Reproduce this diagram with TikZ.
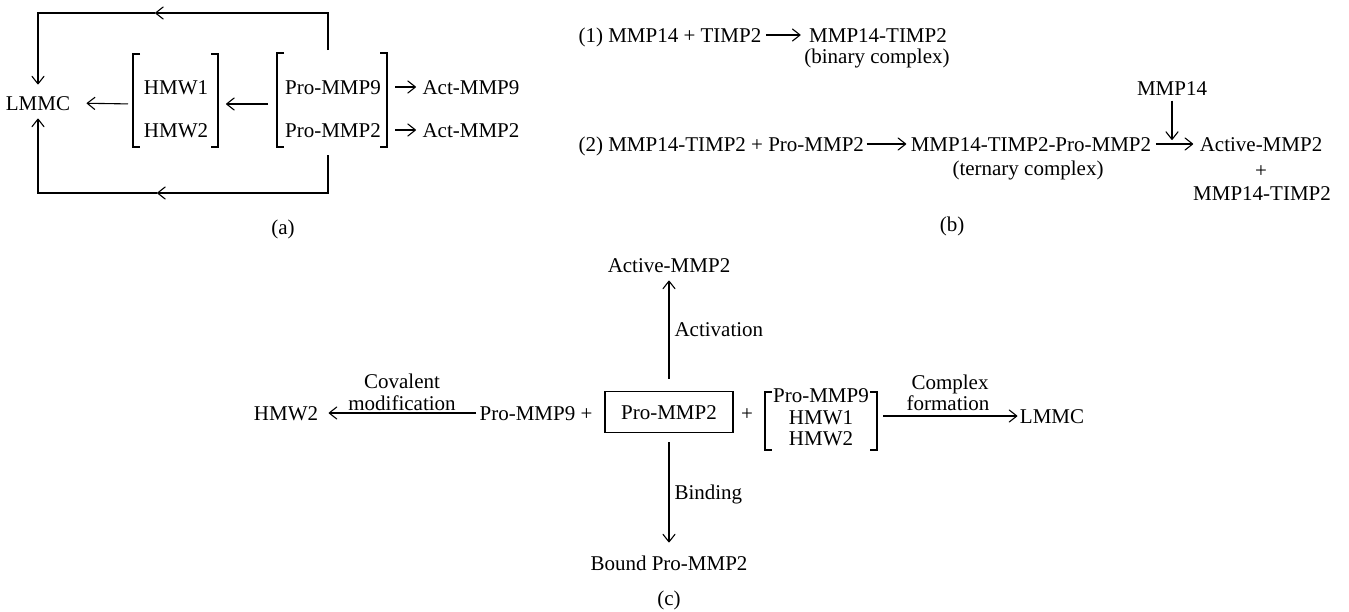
\documentclass[tikz,border=0pt]{standalone}
\usepackage{fontspec}
\setmainfont{Liberation Serif}
\usetikzlibrary{arrows.meta}
\begin{document}
\begin{tikzpicture}[x=0.5pt,y=-0.5pt,line width=0.55pt,
  every node/.style={inner sep=0pt,text height=7pt,text depth=0pt},
  font=\fontsize{10.5}{12}\selectfont,
  arr/.style={-{Straight Barb[length=3.8pt,width=6pt,round]}}]
\useasboundingbox (0,0) rectangle (1349,611);
% ---------------- panel (a)
\node (lmmc) at (38,103) {LMMC};
\node (hmw1) at (176,87) {HMW1};
\node (hmw2) at (176,130) {HMW2};
\node (pro9) at (333,87) {Pro-MMP9};
\node (pro2) at (333,130) {Pro-MMP2};
\node (act9) at (471,87) {Act-MMP9};
\node (act2) at (471,130) {Act-MMP2};
\draw (140,54) -- (133,54) -- (133,147) -- (140,147);
\draw (211,54) -- (218,54) -- (218,147) -- (211,147);
\draw (284,53) -- (277,53) -- (277,147) -- (284,147);
\draw (380,53) -- (387,53) -- (387,147) -- (380,147);
\coordinate (hL) at (133,104);
\coordinate (hR) at (218,104);
\coordinate (pL) at (277,104);
\coordinate (pR9) at (387,87);
\coordinate (pR2) at (387,130);
\coordinate (pT) at (328,50);
\coordinate (pB) at (328,155);
\coordinate (tr) at (328,13);
\coordinate (tm) at (155,13);
\coordinate (tl) at (38,13);
\coordinate (br) at (328,193);
\coordinate (bm) at (157,193);
\coordinate (bl) at (38,193);
\draw[arr,shorten <=4.5pt,shorten >=4pt] (pL) -- (hR);
\draw[arr,shorten <=2.5pt,shorten >=8pt] (hL) -- (lmmc.east);
\draw[arr,shorten <=4pt,shorten >=3pt] (pR9) -- (act9.west);
\draw[arr,shorten <=4pt,shorten >=3pt] (pR2) -- (act2.west);
\draw[arr] (pT) -- (tr) -- (tm);
\draw[arr,shorten >=5.5pt] (tm) -- (tl) -- (lmmc.north);
\draw[arr] (pB) -- (br) -- (bm);
\draw[arr,shorten >=4pt] (bm) -- (bl) -- (lmmc.south);
\node (la) at (283,227) {(a)};
% ---------------- panel (b)
\node[anchor=west] (r1a) at (578,35) {(1) MMP14 + TIMP2};
\node (r1b) at (878,35) {MMP14-TIMP2};
\node (r1c) at (877,56) {(binary complex)};
\draw[arr,shorten <=2pt,shorten >=4pt] (r1a.east) -- (r1b.west);
\node[anchor=west] (r2a) at (578,144) {(2) MMP14-TIMP2 + Pro-MMP2};
\node (r2b) at (1031,144) {MMP14-TIMP2-Pro-MMP2};
\node (r2c) at (1028,168) {(ternary complex)};
\draw[arr,shorten <=1pt,shorten >=2pt] (r2a.east) -- (r2b.west);
\node (r2d) at (1261,144) {Active-MMP2};
\node (r2e) at (1261,170) {+};
\node (r2f) at (1262,193) {MMP14-TIMP2};
\node (m14) at (1172,88) {MMP14};
\coordinate (mj) at (1172,140);
\draw[arr,shorten <=2.5pt] (m14.south) -- (mj);
\draw[arr,shorten <=2pt,shorten >=3pt] (r2b.east) -- (r2d.west);
\node (lb) at (952,224) {(b)};
% ---------------- panel (c)
\node[draw,minimum width=64pt,minimum height=20.5pt] (box) at (669,412) {Pro-MMP2};
\node (actc) at (669,265) {Active-MMP2};
\node (bound) at (669,563) {Bound Pro-MMP2};
\draw[arr,shorten <=6pt,shorten >=4pt] (box.north) -- (actc.south);
\draw[arr,shorten <=4.5pt,shorten >=6.5pt] (box.south) -- (bound.north);
\node[anchor=west] (actl) at (674,329) {Activation};
\node[anchor=west] (bindl) at (674,492) {Binding};
\node (pro9c) at (536,413) {Pro-MMP9 +};
\node (hmw2c) at (286,413) {HMW2};
\draw[arr,shorten <=1.5pt,shorten >=5pt] (pro9c.west) -- (hmw2c.east);
\node (cov1) at (402,381) {Covalent};
\node (cov2) at (402,403) {modification};
\node (plc) at (747,413) {+};
\node (g1) at (821,395) {Pro-MMP9};
\node (g2) at (821,417) {HMW1};
\node (g3) at (821,438) {HMW2};
\draw (772,392) -- (765,392) -- (765,450) -- (772,450);
\draw (870,392) -- (877,392) -- (877,450) -- (870,450);
\coordinate (gR) at (877,416);
\node (lmmcc) at (1052,416) {LMMC};
\draw[arr,shorten <=3pt,shorten >=1pt] (gR) -- (lmmcc.west);
\node (cf1) at (950,382) {Complex};
\node (cf2) at (948,403) {formation};
\node (lc) at (669,598) {(c)};
\end{tikzpicture}
\end{document}
